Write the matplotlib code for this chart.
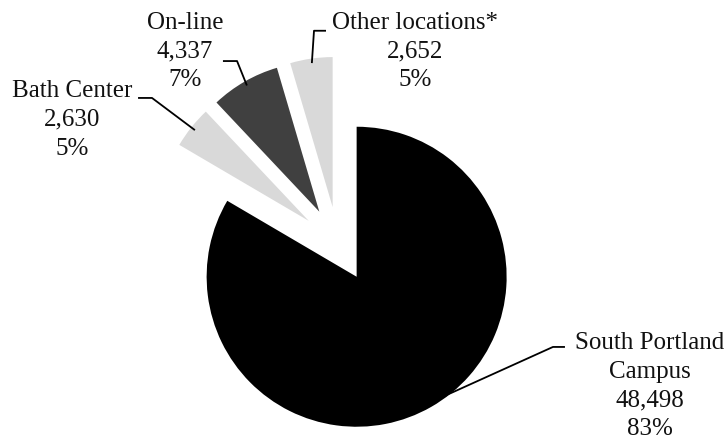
import numpy as np
import matplotlib
matplotlib.use('Agg')
import matplotlib.pyplot as plt

# enrolment by location
locations = ['South Portland\nCampus', 'Bath Center', 'On-line', 'Other locations*']
counts = [48498, 2630, 4337, 2652]
colors = ['#000000', '#d9d9d9', '#404040', '#d9d9d9']

# label placement (data units, pie radius = 1)
label_pos = [(2.08, -0.945), (-1.77, 0.83), (-1.02, 1.285), (0.515, 1.285)]
elbows = [((1.433, -0.685), (1.513, -0.685)),
          ((-1.24, 0.975), (-1.333, 0.975)),
          ((-0.673, 1.221), (-0.767, 1.221)),
          ((-0.16, 1.423), (-0.08, 1.423))]

plt.rcParams['font.family'] = ['Liberation Serif', 'DejaVu Serif']

fig = plt.figure(figsize=(7.28, 4.41), dpi=100)
ax = fig.add_axes([0, 0, 1, 1])

expl = 0.25
wedges, _ = ax.pie(counts, colors=colors, startangle=90, counterclock=False,
                   explode=[expl] * len(counts), radius=1.0,
                   wedgeprops=dict(linewidth=0))

total = float(sum(counts))
for i, w in enumerate(wedges):
    mid = np.deg2rad((w.theta1 + w.theta2) / 2)
    cx, cy = w.center
    tip = (cx + 0.97 * np.cos(mid), cy + 0.97 * np.sin(mid))
    (ex, ey), (tx, ty) = elbows[i]
    ax.plot([tip[0], ex, tx], [tip[1], ey, ty], color='black', lw=1.3,
            solid_capstyle='butt')
    pct = counts[i] / total * 100
    txt = '%s\n%s\n%d%%' % (locations[i], format(counts[i], ','), round(pct))
    ax.text(label_pos[i][0], label_pos[i][1], txt, ha='center', va='center',
            fontsize=18, linespacing=1.4, color='#111111')

ax.set_xlim(-338 / 150, (728 - 338) / 150)
ax.set_ylim(-(441 - 244.2) / 150, 244.2 / 150)
ax.set_aspect('auto')
ax.axis('off')

fig.savefig('out.png', dpi=100)
